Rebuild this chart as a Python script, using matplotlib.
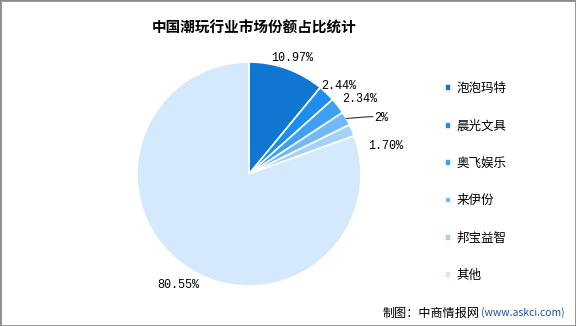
import numpy as np
import matplotlib
matplotlib.use('Agg')
import matplotlib.pyplot as plt
from matplotlib.patches import Rectangle

plt.rcParams['font.family'] = ['Noto Sans CJK SC', 'DejaVu Sans']

# data
companies = ['泡泡玛特', '晨光文具', '奥飞娱乐', '来伊份', '邦宝益智', '其他']
shares = [10.97, 2.44, 2.34, 2.0, 1.70, 80.55]
share_labels = ['10.97%', '2.44%', '2.34%', '2%', '1.70%', '80.55%']
colours = ['#0f76d2', '#1b8ef0', '#3ea0f3', '#71b8f6', '#a3d2f8', '#d4e9fb']

W, H = 576, 326
fig = plt.figure(figsize=(W / 100, H / 100), dpi=100)
ax = fig.add_axes([0, 0, 1, 1])

cx, cy, R = 249, H - 174, 112
wedges, _ = ax.pie(shares, colors=colours, startangle=90, counterclock=False,
                   center=(cx, cy), radius=R, frame=True,
                   wedgeprops=dict(edgecolor='white', linewidth=1.2))
ax.set_xlim(0, W)
ax.set_ylim(0, H)
ax.set_aspect('auto')
ax.axis('off')

# percentage labels (radius factor, angle shift, alignment)
lab_pos = [(1.11, -0.75, 'center'), (1.015, 4.6, 'left'), (1.07, 1.2, 'left'),
           (1.22, -5.6, 'left'), (1.09, -9.8, 'left'), (1.18, 2.4, 'center')]
for w, txt, (rf, da, ha) in zip(wedges, share_labels, lab_pos):
    mid = np.deg2rad((w.theta1 + w.theta2) / 2 + da)
    tx = cx + rf * R * np.cos(mid)
    ty = cy + rf * R * np.sin(mid)
    ax.text(tx, ty, txt, ha=ha, va='center', fontsize=8.5,
            family=['Liberation Mono', 'DejaVu Sans Mono'])
    if txt == '2%':
        m0 = np.deg2rad((w.theta1 + w.theta2) / 2)
        ax.plot([cx + 1.0 * R * np.cos(m0), tx - 5, tx - 1],
                [cy + 1.0 * R * np.sin(m0), ty + 1.5, ty + 1.5], color='#333333', lw=0.8)

# legend
ax.legend(wedges, companies, loc='upper left', bbox_to_anchor=(439 / W, 1 - 76 / H),
          frameon=False, fontsize=9, handlelength=0.45, handleheight=0.45,
          handletextpad=0.45, labelspacing=1.95, borderpad=0)

fig.text(254 / W, 1 - 28 / H, '中国潮玩行业市场份额占比统计', ha='center', va='center',
         fontsize=10.5, fontweight='bold')
fig.text(383 / W, 1 - 313 / H, '制图：中商情报网', ha='left', va='center', fontsize=8.7)
fig.text(481 / W, 1 - 313 / H, '(www.askci.com)', ha='left', va='center', fontsize=7.5,
         color='#1f4f9c')

fig.patches.append(Rectangle((0, 0), 1, 1, transform=fig.transFigure, fill=False,
                             edgecolor='#8c8c8c', linewidth=2))

fig.savefig('out.png', dpi=100)
